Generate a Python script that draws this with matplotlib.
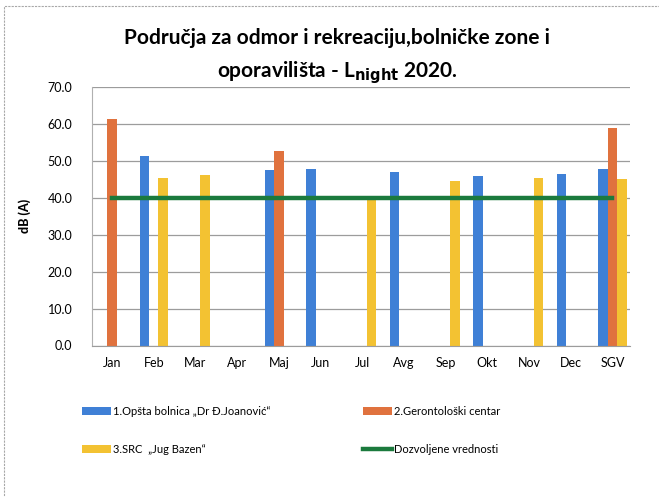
import numpy as np
import matplotlib
matplotlib.use("Agg")
import matplotlib.pyplot as plt
from matplotlib.patches import Rectangle

nan = np.nan
months = ["Jan", "Feb", "Mar", "Apr", "Maj", "Jun", "Jul", "Avg", "Sep", "Okt", "Nov", "Dec", "SGV"]
bolnica = [nan, 51.2, nan, nan, 47.5, 47.7, nan, 47.0, nan, 45.8, nan, 46.3, 47.8]
gerontoloski = [61.3, nan, nan, nan, 52.6, nan, nan, nan, nan, nan, nan, nan, 58.8]
bazen = [nan, 45.3, 46.1, nan, nan, nan, 40.1, nan, 44.4, nan, 45.2, nan, 44.9]
dozvoljeno = [40.0] * 13
yticks = [0, 10, 20, 30, 40, 50, 60, 70]

blue = "#3F80D6"
orange = "#E0723E"
yellow = "#F3C232"
green = "#1B7A3D"

plt.rcParams["font.family"] = ["Lato", "DejaVu Sans"]

fig = plt.figure(figsize=(6.59, 4.97), dpi=100)
fig.patch.set_facecolor("white")
# sivi okvir slike
fig.patches.append(Rectangle((4 / 659, -0.1), 1.2, 1 - 6 / 497 + 0.1, transform=fig.transFigure,
                             fill=False, edgecolor="#a8a8a8", linewidth=0.8, linestyle=(0, (2, 1))))

ax = fig.add_axes([92 / 659, 1 - 345.5 / 497, (630 - 92) / 659, (345.5 - 86.7) / 497])

x = np.arange(len(months))
w = 0.225
b1 = ax.bar(x - w, bolnica, width=w, color=blue, label="1.Opšta bolnica \u201eDr Đ.Joanović\u201c", zorder=2)
b2 = ax.bar(x, gerontoloski, width=w, color=orange, label="2.Gerontološki centar", zorder=2)
b3 = ax.bar(x + w, bazen, width=w, color=yellow, label="3.SRC  \u201eJug Bazen\u201c", zorder=2)
l1, = ax.plot(x, dozvoljeno, color=green, linewidth=3.2, label="Dozvoljene vrednosti", zorder=3)

ax.set_xlim(-0.48, 12.42)
ax.set_ylim(0, 70)
ax.set_yticks(yticks)
ax.set_yticklabels([f"{v:.1f}" for v in yticks], fontsize=9)
ax.set_xticks(x)
ax.set_xticklabels(months, fontsize=9)
ax.tick_params(length=0, pad=8)
ax.tick_params(axis="y", pad=14)
ax.yaxis.grid(True, color="#9c9c9c", linewidth=0.9)
ax.set_axisbelow(True)
for s in ["top", "right"]:
    ax.spines[s].set_visible(False)
ax.spines["left"].set_color("#b0b0b0")
ax.spines["bottom"].set_color("#9c9c9c")
ax.set_ylabel("dB (A)", fontsize=9, fontweight="black", labelpad=12)

fig.text(0.512, 1 - 38 / 497, "Područja za odmor i rekreaciju,bolničke zone i",
         ha="center", va="center", fontsize=15, fontweight="bold")
fig.text(0.512, 1 - 73 / 497, r"oporavilišta - L$_{\mathbf{night}}$ 2020.",
         ha="center", va="center", fontsize=15, fontweight="bold")

# legenda: red 1 plava/narandzasta, red 2 zuta/zelena
fig.legend([b1, b3, b2, l1], [b1.get_label(), b3.get_label(), b2.get_label(), l1.get_label()], ncol=2,
           loc="upper left", bbox_to_anchor=(72 / 659, 1 - 396 / 497), frameon=False,
           fontsize=8, handlelength=2.6, handletextpad=0.2, columnspacing=8.3, labelspacing=2.4)

fig.savefig("out.png", dpi=100)
